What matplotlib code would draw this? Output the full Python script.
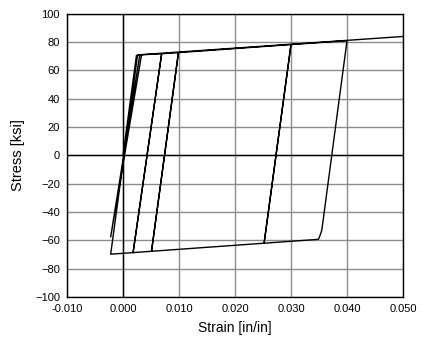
import matplotlib
matplotlib.use("Agg")
import matplotlib.pyplot as plt
from matplotlib.ticker import FormatStrFormatter

plt.rcParams['font.family'] = ['Liberation Sans', 'DejaVu Sans']

# Hysteresis path (strain in/in, stress ksi)
strain = [0.0, 0.0024, 0.0033, -0.0022, 0.0030, 0.0069, 0.0018, 0.0069,
          0.0099, 0.0051, 0.0099, 0.0300, 0.0252, 0.0300, 0.0400,
          0.0355, 0.0351, 0.0349, -0.0022, 0.0026, 0.0500]
stress = [0.0, 70.4, 70.6, -57.6, 70.8, 71.6, -68.7, 71.6,
          72.4, -67.5, 72.4, 78.1, -62.0, 78.1, 80.8,
          -52.9, -57.5, -59.3, -69.8, 70.8, 83.8]

x_ticks = [-0.01, 0.0, 0.01, 0.02, 0.03, 0.04, 0.05]
y_ticks = [-100, -80, -60, -40, -20, 0, 20, 40, 60, 80, 100]

fig = plt.figure(figsize=(4.23, 3.41), dpi=100)
ax = fig.add_axes([0.1584, 0.129, 0.7943, 0.8314])

ax.grid(True, color='#8c8c8c', linewidth=1)
ax.set_axisbelow(True)
ax.axhline(0, color='black', linewidth=1, zorder=1.5)
ax.axvline(0, color='black', linewidth=1, zorder=1.5)

ax.plot(strain, stress, color='black', linewidth=1, zorder=3)

ax.set_xlim(-0.01, 0.05)
ax.set_ylim(-100, 100)
ax.set_xticks(x_ticks)
ax.set_yticks(y_ticks)
ax.xaxis.set_major_formatter(FormatStrFormatter('%.3f'))
ax.tick_params(length=0, labelsize=8, pad=5)

for s in ax.spines.values():
    s.set_color('black')
    s.set_linewidth(1)

ax.set_xlabel('Strain [in/in]', fontsize=10, labelpad=5)
ax.set_ylabel('Stress [ksi]', fontsize=10.5, labelpad=7)

fig.savefig('out.png', dpi=100)
